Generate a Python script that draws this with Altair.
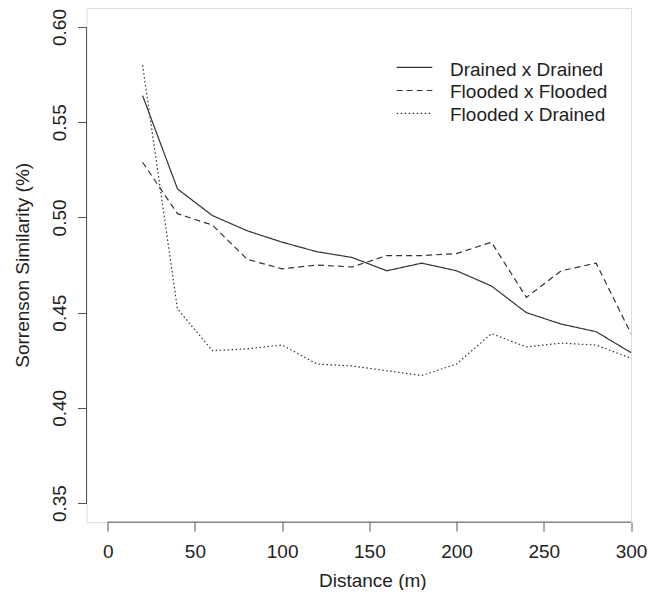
import altair as alt
import pandas as pd

# ---- data ----
distance = [20, 40, 60, 80, 100, 120, 140, 160, 180, 200, 220, 240, 260, 280, 300]
drained_drained = [0.564, 0.515, 0.501, 0.493, 0.487, 0.482, 0.479, 0.472, 0.476, 0.472,
                   0.464, 0.450, 0.444, 0.440, 0.429]
flooded_flooded = [0.529, 0.502, 0.496, 0.478, 0.473, 0.475, 0.474, 0.480, 0.480, 0.481,
                   0.487, 0.458, 0.472, 0.476, 0.439]
flooded_drained = [0.580, 0.452, 0.430, 0.431, 0.433, 0.423, 0.422, 0.4195, 0.417, 0.423,
                   0.439, 0.432, 0.434, 0.433, 0.426]
series_names = ["Drained x Drained", "Flooded x Flooded", "Flooded x Drained"]
x_ticks = [0, 50, 100, 150, 200, 250, 300]
y_ticks = [0.35, 0.40, 0.45, 0.50, 0.55, 0.60]

rows = []
for name, vals in zip(series_names, [drained_drained, flooded_flooded, flooded_drained]):
    for d, v in zip(distance, vals):
        rows.append({"distance": d, "similarity": v, "series": name})
df = pd.DataFrame(rows)

FONT = "Liberation Sans"
TXT = "#222222"
AX = "#555555"
LINE = "#333333"
W = 544.5
H = 514.1
dash_range = [[1, 0], [6, 4], [1.5, 2.5]]

xscale = alt.Scale(domain=[-12.15, 300], nice=False, zero=False)
yscale = alt.Scale(domain=[0.34, 0.61], nice=False, zero=False)

x_axis = alt.Axis(values=x_ticks, format="d", title="Distance (m)", domain=False, grid=False,
                  tickSize=9, tickColor=AX, tickWidth=1, labelPadding=11, labelBaseline="top",
                  labelFlush=False, labelOverlap=False, labelAngle=0, labelFont=FONT,
                  labelFontSize=19, labelColor=TXT, titleFont=FONT, titleFontSize=19,
                  titleFontWeight="normal", titleColor=TXT, titleX=285.8, titleY=64,
                  titleBaseline="alphabetic", titleAlign="center")
y_axis = alt.Axis(values=y_ticks, format=".2f", title="Sorrenson Similarity (%)", domain=False,
                  grid=False, tickSize=9, tickColor=AX, tickWidth=1, labelAngle=270,
                  labelAlign="center", labelBaseline="alphabetic", labelPadding=12.5,
                  labelOverlap=False, labelFont=FONT, labelFontSize=19, labelColor=TXT,
                  titleFont=FONT, titleFontSize=19, titleFontWeight="normal", titleColor=TXT,
                  titleAngle=270, titleBaseline="alphabetic", titleAlign="center",
                  titleX=-58, titleY=256.8)

lines = alt.Chart(df).mark_line(strokeWidth=1.2, color=LINE, strokeCap="butt").encode(
    x=alt.X("distance:Q", scale=xscale, axis=x_axis),
    y=alt.Y("similarity:Q", scale=yscale, axis=y_axis),
    strokeDash=alt.StrokeDash("series:N", scale=alt.Scale(domain=series_names, range=dash_range),
                              legend=None),
)

# R-style axis lines spanning only the tick range
xline = alt.Chart(pd.DataFrame({"distance": [x_ticks[0]], "distance2": [x_ticks[-1]]})).mark_rule(
    color=AX, strokeWidth=1).encode(
    x=alt.X("distance:Q", scale=xscale), x2="distance2:Q", y=alt.value(H))
yline = alt.Chart(pd.DataFrame({"similarity": [y_ticks[0]], "similarity2": [y_ticks[-1]]})).mark_rule(
    color=AX, strokeWidth=1).encode(
    y=alt.Y("similarity:Q", scale=yscale), y2="similarity2:Q", x=alt.value(0))

# legend (manual, R style)
layers = [lines, xline, yline]
leg_line_y = [59.3, 82.5, 105.3]
leg_text_y = [67.7, 90.3, 112.7]
for name, dash, ly, ty in zip(series_names, dash_range, leg_line_y, leg_text_y):
    ldf = pd.DataFrame({"label": [name]})
    layers.append(alt.Chart(ldf).mark_rule(color=LINE, strokeWidth=1.2, strokeDash=dash,
                                           strokeCap="butt").encode(
        x=alt.value(310.2), x2=alt.value(345.8), y=alt.value(ly)))
    layers.append(alt.Chart(ldf).mark_text(align="left", baseline="alphabetic", font=FONT,
                                           fontSize=19, color=TXT).encode(
        x=alt.value(363.5), y=alt.value(ty), text="label:N"))

chart = alt.layer(*layers).properties(
    width=W, height=H,
    padding={"left": 78.5, "top": 0, "right": 16, "bottom": 67.9},
    autosize=alt.AutoSizeParams(type="none"),
).configure_view(stroke=None).configure(background="white")

chart.save("out.html", embed_options={"renderer": "svg", "actions": False})
